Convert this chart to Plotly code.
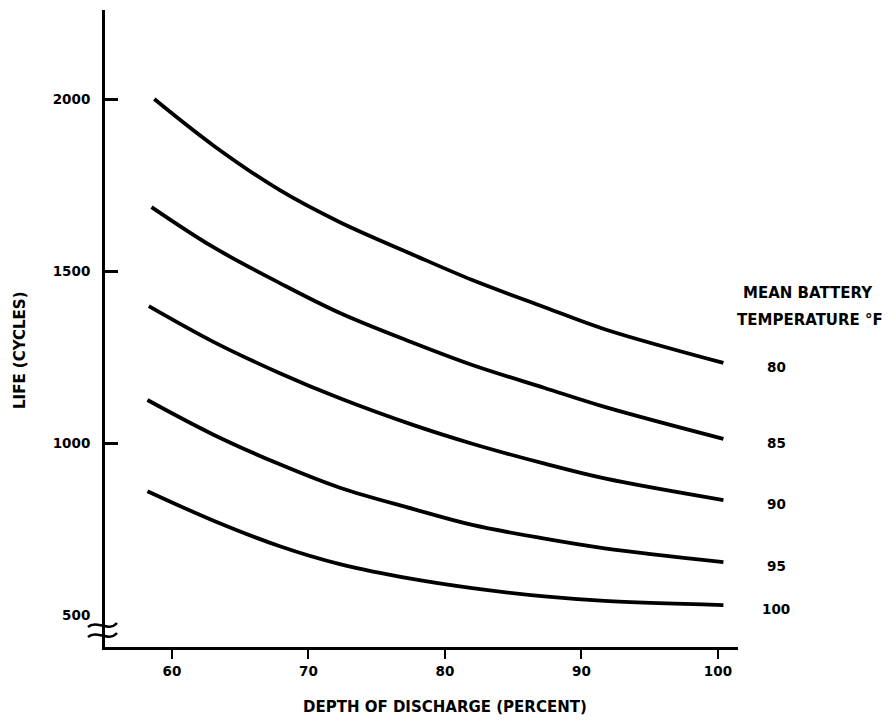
import plotly.graph_objects as go

# ---- data ----
temperatures = ["80", "85", "90", "95", "100"]
depth_common = [63.0, 67.9, 72.3, 77.7, 82.0, 87.3, 91.7, 100.4]
start_depth = [58.7, 58.5, 58.3, 58.2, 58.2]
life_80 = [2000, 1866, 1735, 1642, 1547, 1474, 1395, 1331, 1233]
life_85 = [1686, 1570, 1465, 1378, 1291, 1227, 1160, 1105, 1012]
life_90 = [1398, 1295, 1203, 1130, 1052, 998, 940, 897, 834]
life_95 = [1125, 1025, 938, 870, 808, 762, 722, 694, 654]
life_100 = [860, 775, 700, 648, 604, 578, 554, 541, 529]
series = [life_80, life_85, life_90, life_95, life_100]

y_ticks = [500, 1000, 1500, 2000]
y_marks = [1000, 1500, 2000]
x_ticks = [60, 70, 80, 90, 100]

FONT = "DejaVu Sans"
fig = go.Figure()

for temp, d0, life in zip(temperatures, start_depth, series):
    xs = [d0] + depth_common
    fig.add_trace(go.Scatter(
        x=xs, y=life, mode="lines",
        line=dict(color="black", width=3.8, shape="spline", smoothing=1.0),
        showlegend=False, hoverinfo="skip", name=temp + " °F",
    ))
    fig.add_annotation(
        x=xs[-1], y=life[-1], text=temp, showarrow=False,
        xanchor="center", yanchor="middle", xshift=53, yshift=-4,
        font=dict(family=FONT, size=13.5, color="black", weight="bold"),
    )

# dummy trace to activate the overlay axis carrying the inner tick marks
fig.add_trace(go.Scatter(x=[None], y=[None], yaxis="y2", showlegend=False, hoverinfo="skip"))

# page offset (body margin) compensation
OFF = 8
W, H = 894 - OFF, 725 - OFF
PL, PR, PT, PB = 105, 738, 10, 647          # plot area in page pixels
L, T = PL - OFF, PT - OFF
R, B = W - (PR - OFF), H - (PB - OFF)
pw, ph = PR - PL, PB - PT

def px(xp, yp):
    return (xp - PL) / pw, (PB - yp) / ph

yr = [407, 2259]
fig.update_layout(
    width=W, height=H,
    margin=dict(l=L, r=R, t=T, b=B, pad=0),
    paper_bgcolor="white", plot_bgcolor="white",
    xaxis=dict(
        range=[55.09, 101.47], tickvals=x_ticks, ticktext=[str(v) for v in x_ticks],
        showgrid=False, zeroline=False, showline=True, linecolor="black", linewidth=3,
        ticks="outside", ticklen=9, tickwidth=2, tickcolor="black",
        tickfont=dict(family=FONT, size=13.5, color="black", weight="bold"),
        ticklabelstandoff=1,
    ),
    yaxis=dict(
        range=yr, tickvals=y_ticks, ticktext=[str(v) for v in y_ticks],
        showgrid=False, zeroline=False, showline=True, linecolor="black", linewidth=3,
        ticks="",
        tickfont=dict(family=FONT, size=13.5, color="black", weight="bold"),
        ticklabelstandoff=9,
    ),
    yaxis2=dict(
        range=yr, overlaying="y", side="left", anchor="x",
        tickvals=y_marks, showticklabels=False, showgrid=False, zeroline=False,
        showline=False, ticks="inside", ticklen=13, tickwidth=2.5, tickcolor="black",
    ),
)

# axis titles / legend heading
ax, ay = px(20, 350)
fig.add_annotation(xref="paper", yref="paper", x=ax, y=ay, text="LIFE (CYCLES)",
                   textangle=-90, showarrow=False, xanchor="center", yanchor="middle",
                   font=dict(family=FONT, size=15, color="black", weight="bold"))
ax, ay = px(445, 707)
fig.add_annotation(xref="paper", yref="paper", x=ax, y=ay, text="DEPTH OF DISCHARGE (PERCENT)",
                   showarrow=False, xanchor="center", yanchor="middle",
                   font=dict(family=FONT, size=15, color="black", weight="bold"))
ax, ay = px(808, 293)
fig.add_annotation(xref="paper", yref="paper", x=ax, y=ay, text="MEAN BATTERY",
                   showarrow=False, xanchor="center", yanchor="middle",
                   font=dict(family=FONT, size=15, color="black", weight="bold"))
ax, ay = px(810, 320)
fig.add_annotation(xref="paper", yref="paper", x=ax, y=ay, text="TEMPERATURE °F",
                   showarrow=False, xanchor="center", yanchor="middle",
                   font=dict(family=FONT, size=15, color="black", weight="bold"))

# axis break symbol (≈) on the y axis
for yc in (625, 635):
    p0 = px(88, yc + 2); c1 = px(97, yc - 6); c2 = px(108, yc + 8); p3 = px(117, yc - 2)
    path = "M {:.5f},{:.5f} C {:.5f},{:.5f} {:.5f},{:.5f} {:.5f},{:.5f}".format(*p0, *c1, *c2, *p3)
    fig.add_shape(type="path", xref="paper", yref="paper", path=path,
                  line=dict(color="black", width=2.5))

fig.write_html("out.html")
